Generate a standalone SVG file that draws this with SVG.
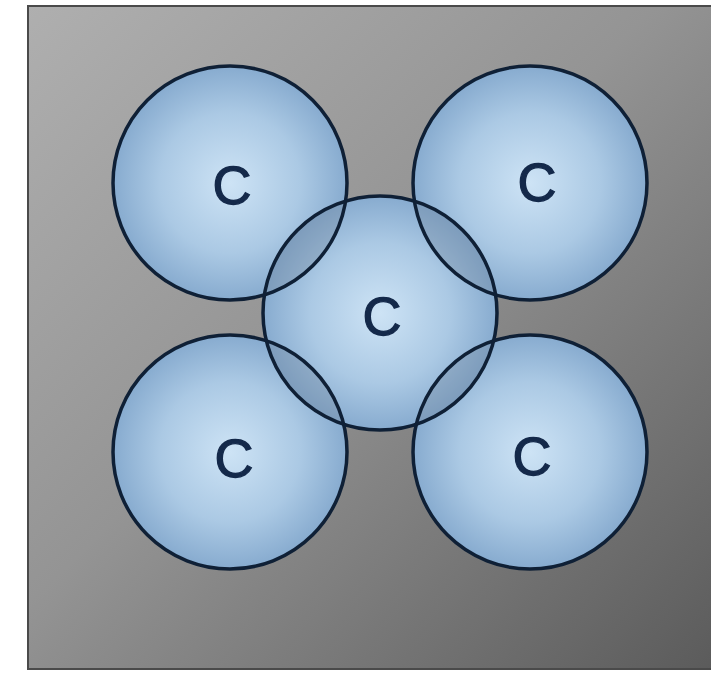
<svg xmlns="http://www.w3.org/2000/svg" width="711" height="675" viewBox="0 0 711 675">
  <style>
    .ball { fill: url(#ballGrad); }
    .ring { fill: none; stroke: #0f2036; stroke-width: 3.5; }
    .lbl { font-family: "Liberation Sans", Arial, sans-serif; font-size: 54px; fill: #14294a; stroke: #14294a; stroke-width: 1.3; text-anchor: middle; }
  </style>
  <defs>
    <linearGradient id="bgGrad" x1="0" y1="0" x2="1" y2="1">
      <stop offset="0" stop-color="#afafaf"/>
      <stop offset="0.45" stop-color="#949494"/>
      <stop offset="1" stop-color="#5a5a5a"/>
    </linearGradient>
    <radialGradient id="ballGrad" cx="0.5" cy="0.5" r="0.5">
      <stop offset="0" stop-color="#cde3f5"/>
      <stop offset="0.6" stop-color="#abc9e4"/>
      <stop offset="1" stop-color="#87abcf"/>
    </radialGradient>
    <clipPath id="outerClip">
      <circle cx="230" cy="183" r="117"/>
      <circle cx="530" cy="183" r="117"/>
      <circle cx="230" cy="452" r="117"/>
      <circle cx="530" cy="452" r="117"/>
    </clipPath>
  </defs>

  <rect x="0" y="0" width="711" height="675" fill="#ffffff"/>
  <rect id="frame" x="28" y="6" width="700" height="663" fill="url(#bgGrad)" stroke="#4a4a4a" stroke-width="2"/>

  <g id="fills">
    <circle class="ball" cx="230" cy="183" r="117"/>
    <circle class="ball" cx="530" cy="183" r="117"/>
    <circle class="ball" cx="230" cy="452" r="117"/>
    <circle class="ball" cx="530" cy="452" r="117"/>
    <circle class="ball" cx="380" cy="313" r="117"/>
    <circle cx="380" cy="313" r="117" fill="#66788c" opacity="0.28" clip-path="url(#outerClip)"/>
  </g>

  <g id="node-top-left">
    <circle class="ring" cx="230" cy="183" r="117"/>
    <text class="lbl" x="232" y="204">C</text>
  </g>
  <g id="node-top-right">
    <circle class="ring" cx="530" cy="183" r="117"/>
    <text class="lbl" x="537" y="201">C</text>
  </g>
  <g id="node-bottom-left">
    <circle class="ring" cx="230" cy="452" r="117"/>
    <text class="lbl" x="234" y="477">C</text>
  </g>
  <g id="node-bottom-right">
    <circle class="ring" cx="530" cy="452" r="117"/>
    <text class="lbl" x="532" y="475">C</text>
  </g>
  <g id="node-center">
    <circle class="ring" cx="380" cy="313" r="117"/>
    <text class="lbl" x="382" y="335">C</text>
  </g>
  <g id="connectors"></g>
</svg>
